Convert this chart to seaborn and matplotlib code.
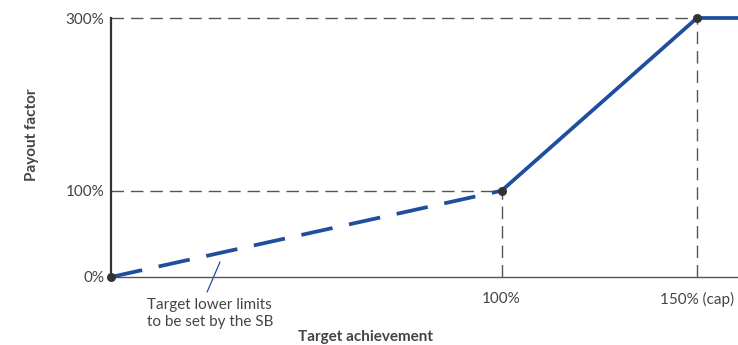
import numpy as np
import pandas as pd
import matplotlib
matplotlib.use('Agg')
import matplotlib.pyplot as plt
import seaborn as sns

# payout curve
achievement = [0, 100, 150, 160.5]
payout = [0, 100, 300, 300]
key_points = [0, 1, 2]

x_ticks = [100, 150]
x_tick_labels = ['100%', '150% (cap)']
y_ticks = [0, 100, 300]
y_tick_labels = ['0%', '100%', '300%']

blue = '#1f4e9f'
dark = '#333333'
grey = '#555555'
text_col = '#444444'

sns.set_style('white')
plt.rcParams['font.family'] = ['Lato', 'DejaVu Sans']

fig = plt.figure(figsize=(7.38, 3.45), dpi=100)
ax = fig.add_axes([111 / 738, 68 / 345, 1 - 111 / 738, (277 - 18) / 345])

df = pd.DataFrame({'x': achievement, 'y': payout})

# dashed guide lines
guide = dict(color=grey, lw=1.0, dashes=(9, 5), zorder=1, clip_on=False)
ax.plot([0, achievement[2]], [payout[2], payout[2]], **guide)
ax.plot([0, achievement[1]], [payout[1], payout[1]], **guide)
ax.plot([achievement[1], achievement[1]], [0, payout[1]], **guide)
ax.plot([achievement[2], achievement[2]], [0, payout[2]], **guide)

# dashed lower part, solid upper part
sns.lineplot(data=df.iloc[:2], x='x', y='y', ax=ax, color=blue, lw=2.7,
             zorder=3, clip_on=False)
ax.lines[-1].set_dashes((8.5, 4.5))
ax.lines[-1].set_dash_capstyle('butt')
sns.lineplot(data=df.iloc[1:], x='x', y='y', ax=ax, color=blue, lw=2.7,
             zorder=3, clip_on=False)

pts = df.iloc[key_points]
ax.scatter(pts['x'], pts['y'], s=42, color=dark, zorder=5, clip_on=False,
           linewidths=0)

ax.set_xlim(0, 160.5)
ax.set_ylim(0, 300)
ax.set_xticks(x_ticks, x_tick_labels)
ax.set_yticks(y_ticks, y_tick_labels)
ax.tick_params(axis='x', length=0, pad=11, labelsize=11, labelcolor=text_col)
ax.tick_params(axis='y', length=0, pad=5, labelsize=11, labelcolor=text_col)

for s in ['top', 'right']:
    ax.spines[s].set_visible(False)
ax.spines['left'].set_color(dark)
ax.spines['left'].set_linewidth(1.6)
ax.spines['bottom'].set_color(grey)
ax.spines['bottom'].set_linewidth(1.0)

ax.set_xlabel('Target achievement', fontweight='bold', fontsize=11,
              color=text_col)
ax.set_ylabel('Payout factor', fontweight='bold', fontsize=11,
              color=text_col)
ax.xaxis.set_label_coords((366 - 111) / (738 - 111), -(330 - 277) / (277 - 18))
ax.yaxis.set_label_coords(-(111 - 39) / (738 - 111), (277 - 135) / (277 - 18))

# callout for the lower limit
ax.plot([24.6, 27.9], [-17.4, 17.4], color=blue, lw=0.9, clip_on=False)
ax.text(25.3, -24.5, 'Target lower limits\nto be set by the SB', ha='center',
        va='top', fontsize=11, color=text_col, linespacing=1.3)

fig.savefig('out.png', dpi=100)
